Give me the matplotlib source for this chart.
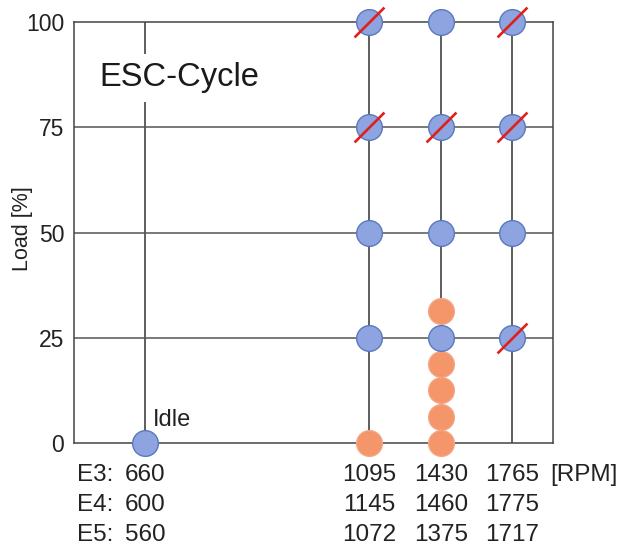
import matplotlib
matplotlib.use("Agg")
import matplotlib.pyplot as plt
from matplotlib.path import Path

plt.rcParams['font.family'] = ['Liberation Sans', 'DejaVu Sans']

# ---- data ----
columns = ["Idle", "C1", "C2", "C3"]
rpm_e3 = [660, 1095, 1430, 1765]
rpm_e4 = [600, 1145, 1460, 1775]
rpm_e5 = [560, 1072, 1375, 1717]
engine_names = ["E3:", "E4:", "E5:"]
load_ticks = [0, 25, 50, 75, 100]

# ESC points (column index, load %)
esc_col = [0, 1, 1, 1, 1, 2, 2, 2, 2, 3, 3, 3, 3]
esc_load = [0, 25, 50, 75, 100, 25, 50, 75, 100, 25, 50, 75, 100]
# crossed-out ESC points
cross_col = [1, 1, 2, 3, 3, 3]
cross_load = [75, 100, 75, 25, 75, 100]
# additional (orange) points
extra_col = [1, 2, 2, 2, 2, 2]
extra_load = [0, 0, 6.25, 12.5, 18.75, 31.25]

# ---- layout (column x positions in axes units) ----
col_x = [0.148, 0.616, 0.766, 0.914]

fig = plt.figure(figsize=(6.25, 5.47), dpi=100)
ax = fig.add_axes([0.1184, 0.1901, 0.7664, 0.7697])
ax.set_xlim(0, 1)
ax.set_ylim(0, 100)

vline_col = '#333333'
hline_col = '#555555'
for c in col_x:
    ax.plot([c, c], [0, 100], color=vline_col, lw=1.1, zorder=1)
for y in load_ticks[1:-1]:
    ax.plot([0, 1], [y, y], color=hline_col, lw=1.1, zorder=1)
for s in ax.spines.values():
    s.set_color('#444444')
    s.set_linewidth(1.1)

ax.set_xticks([])
ax.set_yticks(load_ticks)
ax.tick_params(axis='y', length=0, pad=7, labelsize=16.5, labelcolor='#222222')
ax.set_ylabel("Load [%]", fontsize=15.5, color='#222222', labelpad=2)
ax.yaxis.set_label_coords(-0.085, 0.51)

blue_face, blue_edge = '#8DA4E0', '#5A78BE'
or_face, or_edge = '#F4956A', '#F3A584'

ax.plot([col_x[i] for i in extra_col], extra_load, 'o', ms=18.5, mfc=or_face,
        mec=or_edge, mew=1, clip_on=False, zorder=3, ls='none')
ax.plot([col_x[i] for i in esc_col], esc_load, 'o', ms=18.5, mfc=blue_face,
        mec=blue_edge, mew=1, clip_on=False, zorder=4, ls='none')

slash = Path([(-1, -1), (1, 1)], [Path.MOVETO, Path.LINETO])
ax.plot([col_x[i] for i in cross_col], cross_load, ls='none', marker=slash,
        ms=21.5, mec='#E0201C', mew=1.9, clip_on=False, zorder=5)

# titles / annotations
ax.text(0.054, 0.867, "ESC-Cycle", transform=ax.transAxes, fontsize=23.5,
        color='#1a1a1a', va='center', ha='left', zorder=2,
        bbox=dict(facecolor='white', edgecolor='none', pad=6))
ax.annotate("Idle", xy=(col_x[0], 0), xytext=(6, 16.5), textcoords='offset points',
            fontsize=17, color='#222222', ha='left', va='center')

rows = [rpm_e3, rpm_e4, rpm_e5]
for r, (name, vals) in enumerate(zip(engine_names, rows)):
    off = -(23 + 21.6 * r)
    ax.annotate(name, xy=(0.006, 0), xycoords=('axes fraction', 'data'),
                xytext=(0, off), textcoords='offset points', fontsize=17.5,
                color='#222222', ha='left', va='center', annotation_clip=False)
    for c, v in zip(col_x, vals):
        ax.annotate(str(v), xy=(c, 0), xytext=(0, off), textcoords='offset points',
                    fontsize=17.5, color='#222222', ha='center', va='center',
                    annotation_clip=False)
ax.annotate("[RPM]", xy=(0.994, 0), xytext=(0, -23), textcoords='offset points',
            fontsize=17.5, color='#222222', ha='left', va='center',
            annotation_clip=False)

fig.savefig("out.png", dpi=100)
